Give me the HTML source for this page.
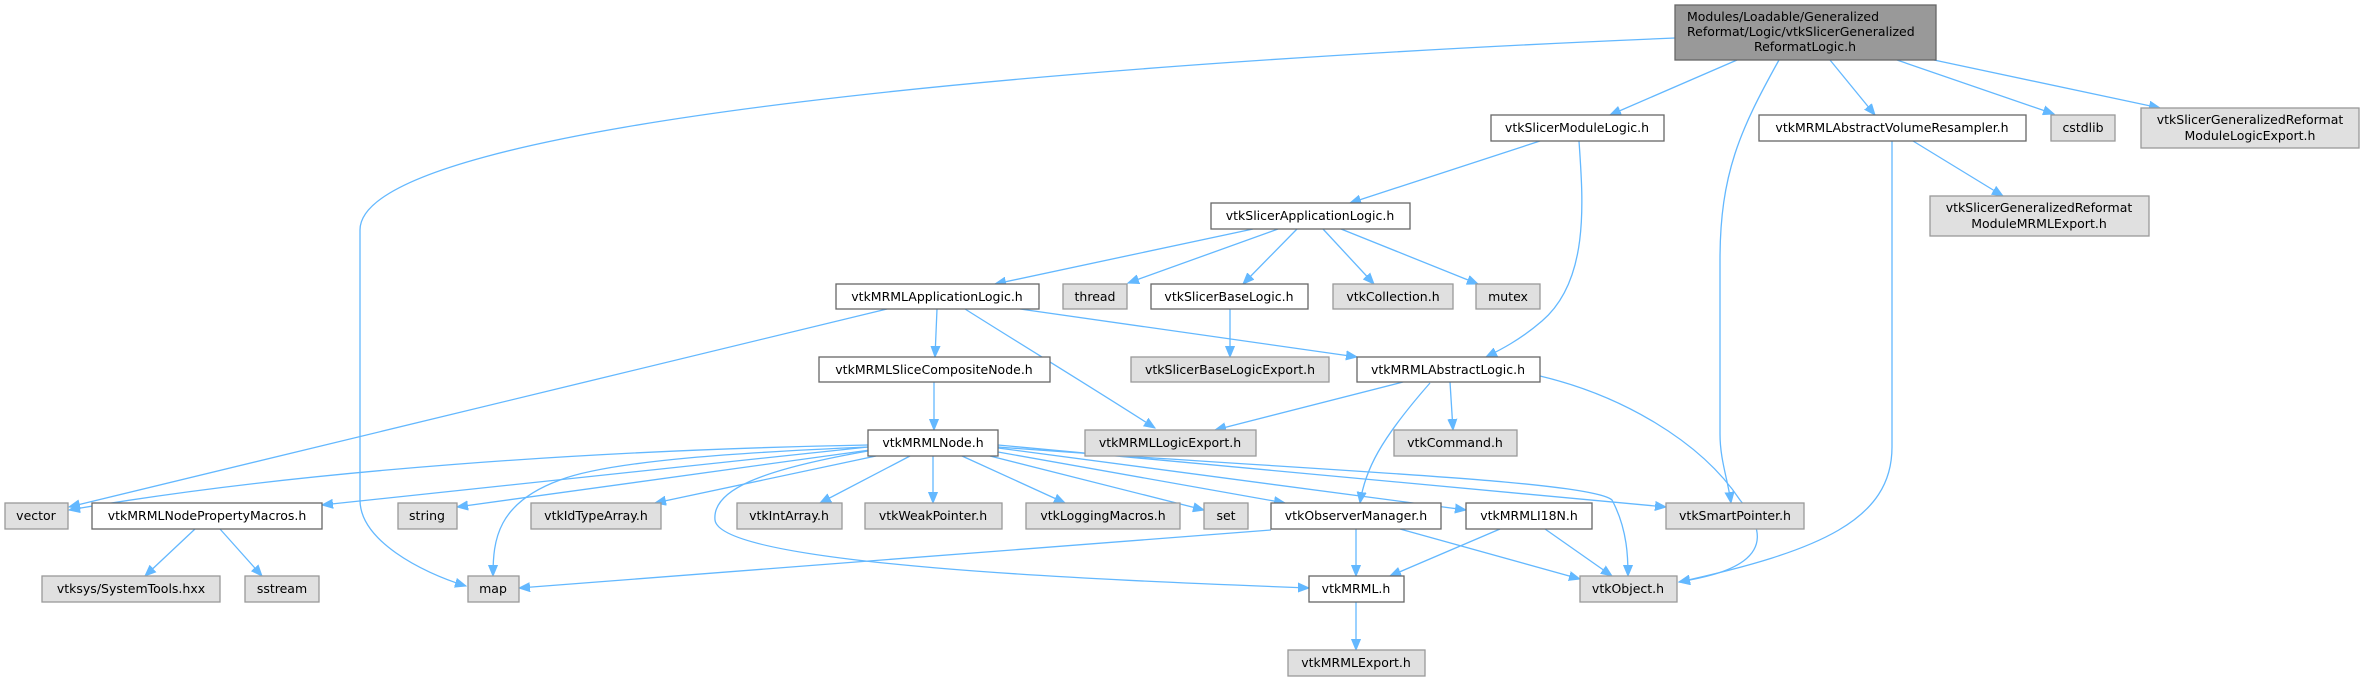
<!DOCTYPE html>
<html><head><meta charset="utf-8"><style>
html,body{margin:0;padding:0;background:#fff;}
svg{display:block;}
text{font-family:"DejaVu Sans","Liberation Sans",sans-serif;font-size:12.5px;fill:#000;}
.e{fill:none;stroke:#63b8ff;stroke-width:1.3;marker-end:url(#a);}
.w{fill:#fff;stroke:#666;stroke-width:1.3;}
.g{fill:#e0e0e0;stroke:#999;stroke-width:1.3;}
.r{fill:#999;stroke:#666;stroke-width:1.3;}
</style></head><body>
<svg width="2365" height="681" viewBox="0 0 2365 681" xmlns="http://www.w3.org/2000/svg">
<defs><marker id="a" markerUnits="userSpaceOnUse" markerWidth="12" markerHeight="10" refX="11" refY="5" orient="auto"><path d="M0,0.5 L11,5 L0,9.5 z" fill="#63b8ff" stroke="#63b8ff"/></marker></defs>
<!-- edges -->
<path class="e" d="M1675,38 C1100,62 360,120 360,230 L360,500 C360,540 420,572 466,586"/>
<path class="e" d="M1737,60 L1610,115"/>
<path class="e" d="M1779,60 C1740,130 1720,174 1720,260 L1720,434 C1720,460 1728,480 1731,503"/>
<path class="e" d="M1830,60 L1875,115"/>
<path class="e" d="M1897,60 L2054,114"/>
<path class="e" d="M1934,60 L2160,108"/>
<path class="e" d="M1540,141 L1350,203"/>
<path class="e" d="M1579,141 C1583,200 1590,280 1542,321 C1520,340 1500,350 1486,357"/>
<path class="e" d="M1913,141 L2003,196"/>
<path class="e" d="M1892,141 L1892,447 C1892,520 1820,551 1679,582"/>
<path class="e" d="M1253,229 L995,284"/>
<path class="e" d="M1278,229 L1128,283"/>
<path class="e" d="M1297,229 L1243,284"/>
<path class="e" d="M1323,229 L1374,284"/>
<path class="e" d="M1341,229 L1478,284"/>
<path class="e" d="M1230,309 L1230,357"/>
<path class="e" d="M887,309 L69,507"/>
<path class="e" d="M937,309 L935,357"/>
<path class="e" d="M965,309 C1030,350 1080,380 1155,428"/>
<path class="e" d="M1020,309 L1357,357"/>
<path class="e" d="M934,382 L934,430"/>
<path class="e" d="M1403,382 L1215,430"/>
<path class="e" d="M1450,382 L1453,430"/>
<path class="e" d="M1430,383 C1380,440 1365,470 1360,503"/>
<path class="e" d="M1540,376 C1620,395 1700,440 1740,500 C1790,560 1720,575 1679,582"/>
<path class="e" d="M868,445 C600,450 300,470 69,510"/>
<path class="e" d="M868,447 L322,505"/>
<path class="e" d="M870,450 L457,507"/>
<path class="e" d="M868,447 C750,452 612,460 560,480 C497,503 493,540 493,576"/>
<path class="e" d="M876,456 L655,503"/>
<path class="e" d="M910,456 L820,503"/>
<path class="e" d="M933,456 L933,503"/>
<path class="e" d="M962,456 L1065,503"/>
<path class="e" d="M990,456 L1204,510"/>
<path class="e" d="M998,452 L1285,503"/>
<path class="e" d="M998,448 L1466,510"/>
<path class="e" d="M998,445 L1666,507"/>
<path class="e" d="M998,447 C1300,470 1590,480 1612,500 C1628,530 1628,560 1628,576"/>
<path class="e" d="M868,451 C760,470 712,490 715,520 C720,565 1100,580 1309,588"/>
<path class="e" d="M195,529 L145,576"/>
<path class="e" d="M220,529 L262,576"/>
<path class="e" d="M1271,530 L519,588"/>
<path class="e" d="M1356,529 L1356,576"/>
<path class="e" d="M1400,529 L1580,579"/>
<path class="e" d="M1500,529 L1390,576"/>
<path class="e" d="M1545,529 L1612,576"/>
<path class="e" d="M1356,602 L1356,650"/>
<!-- nodes -->
<rect class="r" x="1675" y="5" width="261" height="55"/>
<text x="1687" y="21">Modules/Loadable/Generalized</text>
<text x="1687" y="36">Reformat/Logic/vtkSlicerGeneralized</text>
<text x="1805" y="51" text-anchor="middle">ReformatLogic.h</text>
<g text-anchor="middle">
<rect class="w" x="1491" y="115" width="173" height="26"/><text x="1577" y="132">vtkSlicerModuleLogic.h</text>
<rect class="w" x="1759" y="115" width="267" height="26"/><text x="1892" y="132">vtkMRMLAbstractVolumeResampler.h</text>
<rect class="g" x="2051" y="115" width="64" height="26"/><text x="2083" y="132">cstdlib</text>
<rect class="g" x="2141" y="108" width="218" height="40"/><text x="2250" y="124">vtkSlicerGeneralizedReformat</text><text x="2250" y="140">ModuleLogicExport.h</text>
<rect class="g" x="1930" y="196" width="219" height="40"/><text x="2039" y="212">vtkSlicerGeneralizedReformat</text><text x="2039" y="228">ModuleMRMLExport.h</text>
<rect class="w" x="1211" y="203" width="199" height="26"/><text x="1310" y="220">vtkSlicerApplicationLogic.h</text>
<rect class="w" x="836" y="284" width="203" height="25"/><text x="937" y="301">vtkMRMLApplicationLogic.h</text>
<rect class="g" x="1063" y="284" width="64" height="25"/><text x="1095" y="301">thread</text>
<rect class="w" x="1151" y="284" width="157" height="25"/><text x="1229" y="301">vtkSlicerBaseLogic.h</text>
<rect class="g" x="1333" y="284" width="120" height="25"/><text x="1393" y="301">vtkCollection.h</text>
<rect class="g" x="1476" y="284" width="64" height="25"/><text x="1508" y="301">mutex</text>
<rect class="w" x="819" y="357" width="231" height="25"/><text x="934" y="374">vtkMRMLSliceCompositeNode.h</text>
<rect class="g" x="1131" y="357" width="198" height="25"/><text x="1230" y="374">vtkSlicerBaseLogicExport.h</text>
<rect class="w" x="1357" y="357" width="183" height="25"/><text x="1448" y="374">vtkMRMLAbstractLogic.h</text>
<rect class="w" x="868" y="430" width="130" height="26"/><text x="933" y="447">vtkMRMLNode.h</text>
<rect class="g" x="1085" y="430" width="171" height="26"/><text x="1170" y="447">vtkMRMLLogicExport.h</text>
<rect class="g" x="1394" y="430" width="123" height="26"/><text x="1455" y="447">vtkCommand.h</text>
<rect class="g" x="5" y="503" width="63" height="26"/><text x="36" y="520">vector</text>
<rect class="w" x="92" y="503" width="230" height="26"/><text x="207" y="520">vtkMRMLNodePropertyMacros.h</text>
<rect class="g" x="398" y="503" width="59" height="26"/><text x="427" y="520">string</text>
<rect class="g" x="531" y="503" width="130" height="26"/><text x="596" y="520">vtkIdTypeArray.h</text>
<rect class="g" x="737" y="503" width="105" height="26"/><text x="789" y="520">vtkIntArray.h</text>
<rect class="g" x="865" y="503" width="137" height="26"/><text x="933" y="520">vtkWeakPointer.h</text>
<rect class="g" x="1026" y="503" width="154" height="26"/><text x="1103" y="520">vtkLoggingMacros.h</text>
<rect class="g" x="1204" y="503" width="44" height="26"/><text x="1226" y="520">set</text>
<rect class="w" x="1271" y="503" width="170" height="26"/><text x="1356" y="520">vtkObserverManager.h</text>
<rect class="w" x="1466" y="503" width="126" height="26"/><text x="1529" y="520">vtkMRMLI18N.h</text>
<rect class="g" x="1666" y="503" width="138" height="26"/><text x="1735" y="520">vtkSmartPointer.h</text>
<rect class="g" x="42" y="576" width="178" height="26"/><text x="131" y="593">vtksys/SystemTools.hxx</text>
<rect class="g" x="245" y="576" width="74" height="26"/><text x="282" y="593">sstream</text>
<rect class="g" x="468" y="576" width="51" height="26"/><text x="493" y="593">map</text>
<rect class="w" x="1309" y="576" width="95" height="26"/><text x="1356" y="593">vtkMRML.h</text>
<rect class="g" x="1580" y="576" width="97" height="26"/><text x="1628" y="593">vtkObject.h</text>
<rect class="g" x="1288" y="650" width="137" height="26"/><text x="1356" y="667">vtkMRMLExport.h</text>
</g>
</svg>
</body></html>
